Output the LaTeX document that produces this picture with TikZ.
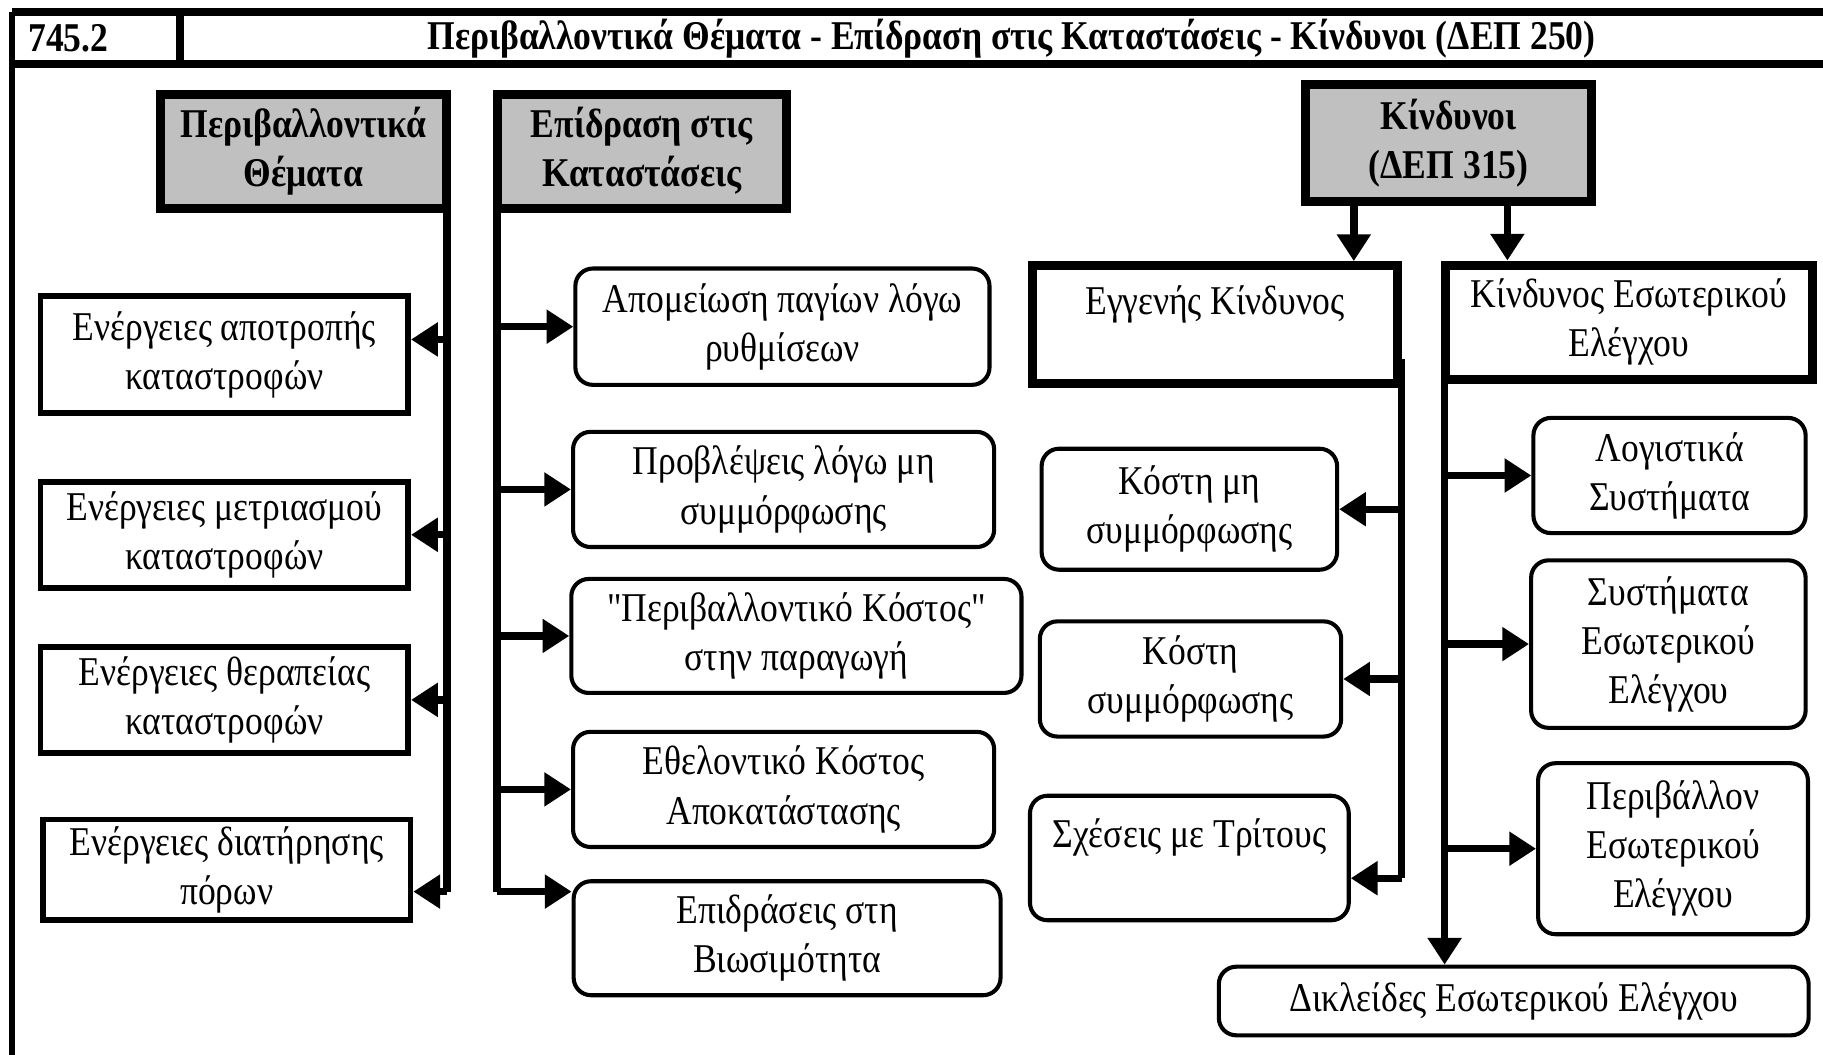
\documentclass[tikz,border=0pt]{standalone}
\usepackage{fontspec}
\setmainfont{Liberation Serif}[FakeStretch=0.87,Ligatures=TeXOff]
\usetikzlibrary{arrows.meta,positioning,calc}
\definecolor{headgray}{RGB}{192,192,192}

\begin{document}
\begin{tikzpicture}[x=0.01cm,y=-0.01cm,
  head/.style={draw,line width=2.2pt,fill=headgray,font=\bfseries,align=center,inner sep=1pt},
  act/.style={draw,line width=1.4pt,align=center,inner sep=1pt},
  eff/.style={draw,line width=1pt,rounded corners=0.15cm,align=center,inner sep=1pt},
  risk/.style={draw,line width=2.2pt,align=center,inner sep=1pt},
  trunk/.style={line width=1.8pt},
  arr/.style={line width=1.8pt,-{Triangle[length=2.3mm,width=2.8mm]}}]
\useasboundingbox (0,0) rectangle (1568,907);
% frame and title row
\draw[line width=1.5pt] (10,930) -- (10,10);
\draw[line width=2pt] (10,10) -- (1590,10) (10,55) -- (1590,55) (155,10) -- (155,55);
\node[font=\bfseries,anchor=west] (num) at (12,33) {745.2};
\node[font=\bfseries] (ttl) at (870,33) {Περιβαλλοντικά Θέματα - Επίδραση στις Καταστάσεις - Κίνδυνοι (ΔΕΠ 250)};
% headers
\node[head,minimum width=2.46cm,minimum height=0.98cm] (pe) at (261,130) {Περιβαλλοντικά\\Θέματα};
\node[head,minimum width=2.48cm,minimum height=0.98cm] (ep) at (552,130) {Επίδραση στις\\Καταστάσεις};
\node[head,minimum width=2.46cm,minimum height=1.00cm] (kd) at (1246,123) {Κίνδυνοι\\(ΔΕΠ 315)};
% environmental issues
\node[act,minimum width=3.16cm,minimum height=1.01cm] (a1) at (193,305) {Ενέργειες αποτροπής\\καταστροφών};
\node[act,minimum width=3.16cm,minimum height=0.91cm] (a2) at (193,460) {Ενέργειες μετριασμού\\καταστροφών};
\node[act,minimum width=3.16cm,minimum height=0.91cm] (a3) at (193,602) {Ενέργειες θεραπείας\\καταστροφών};
\node[act,minimum width=3.16cm,minimum height=0.86cm] (a4) at (195,748) {Ενέργειες διατήρησης\\πόρων};
% effects on statements
\node[eff,minimum width=3.56cm,minimum height=1.00cm] (b1) at (673,281) {Απομείωση παγίων λόγω\\ρυθμίσεων};
\node[eff,minimum width=3.62cm,minimum height=0.99cm] (b2) at (674,421) {Προβλέψεις λόγω μη\\συμμόρφωσης};
\node[eff,minimum width=3.87cm,minimum height=0.98cm] (b3) at (685,547) {"Περιβαλλοντικό Κόστος"\\στην παραγωγή};
\node[eff,minimum width=3.62cm,minimum height=0.99cm] (b4) at (674,679) {Εθελοντικό Κόστος\\Αποκατάστασης};
\node[eff,minimum width=3.67cm,minimum height=0.98cm] (b5) at (677,807) {Επιδράσεις στη\\Βιωσιμότητα};
% risks
\node[risk,minimum width=3.13cm,minimum height=1.01cm] (ri) at (1045,279) {Εγγενής Κίνδυνος\\\mbox{}};
\node[risk,minimum width=3.16cm,minimum height=0.98cm] (ic) at (1401,277) {Κίνδυνος Εσωτερικού\\Ελέγχου};
\node[eff,minimum width=2.54cm,minimum height=1.04cm] (c1) at (1023,438) {Κόστη μη\\συμμόρφωσης};
\node[eff,minimum width=2.59cm,minimum height=0.99cm] (c2) at (1024,584) {Κόστη\\συμμόρφωσης};
\node[eff,minimum width=2.74cm,minimum height=1.07cm] (c3) at (1023,738) {Σχέσεις με Τρίτους\\\mbox{}};
\node[eff,minimum width=2.34cm,minimum height=0.99cm] (d1) at (1436,409) {Λογιστικά\\Συστήματα};
\node[eff,minimum width=2.36cm,minimum height=1.44cm] (d2) at (1435,554) {Συστήματα\\Εσωτερικού\\Ελέγχου};
\node[eff,minimum width=2.32cm,minimum height=1.47cm] (d3) at (1439,730) {Περιβάλλον\\Εσωτερικού\\Ελέγχου};
\node[eff,minimum width=5.07cm,minimum height=0.59cm] (dk) at (1302,861) {Δικλείδες Εσωτερικού Ελέγχου};
% trunks
\draw[trunk] ([xshift=-1pt]pe.south east) -- ++(0,584) coordinate (pe-end);
\draw[trunk] ([xshift=1pt]ep.south west) -- ++(0,584) coordinate (ep-end);
\draw[trunk] ([yshift=0.25cm]ri.south east) -- ++(0,447) coordinate (ri-end);
\coordinate (ic-top) at ([xshift=1pt]ic.south west);
\coordinate (a1-in) at ([yshift=0.13cm]a1.east);
\coordinate (k1) at ([xshift=-0.815cm]kd.south);
\coordinate (k2) at ([xshift=0.505cm]kd.south);
% arrows
\path[arr]
(pe-end |- a1-in) edge (a1-in)
(pe-end |- a2.east) edge (a2.east)
(pe-end |- a3.east) edge (a3.east)
(pe-end) edge (pe-end -| a4.east)
(ep-end |- b1.west) edge (b1.west)
(ep-end |- b2.west) edge (b2.west)
(ep-end |- b3.west) edge (b3.west)
(ep-end |- b4.west) edge (b4.west)
(ep-end) edge (ep-end -| b5.west)
(k1) edge (k1 |- ri.north)
(k2) edge (k2 |- ic.north)
(ri-end |- c1.east) edge (c1.east)
(ri-end |- c2.east) edge (c2.east)
(ri-end) edge (ri-end -| c3.east)
(ic-top) edge (ic-top |- dk.north)
(ic-top |- d1.west) edge (d1.west)
(ic-top |- d2.west) edge (d2.west)
(ic-top |- d3.west) edge (d3.west)
;
\end{tikzpicture}
\end{document}
